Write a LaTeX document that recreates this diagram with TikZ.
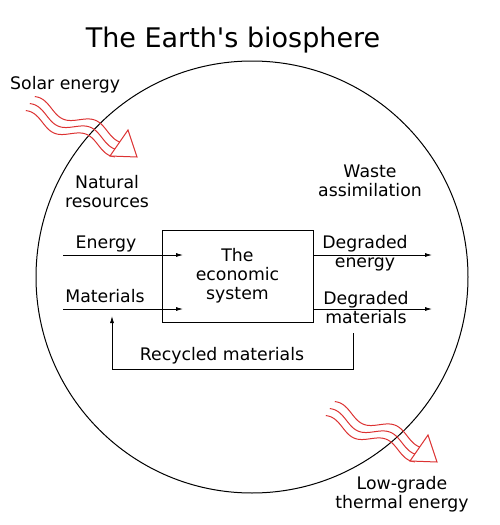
\documentclass[tikz,border=0pt]{standalone}
\usepackage{fontspec}
\setmainfont{DejaVu Sans}
\usetikzlibrary{arrows.meta}
\definecolor{wavered}{RGB}{220,50,50}

\begin{document}
\begin{tikzpicture}[x=1pt,y=-1pt,
		txt/.style={font=\fontsize{17.3}{19}\selectfont,align=center,anchor=base,inner sep=0pt},
		flow/.style={-{Latex[length=7pt,width=4pt]},line width=0.8pt},
		wave/.style={draw=wavered,line width=1pt}]
	\useasboundingbox (0,0) rectangle (500,525);
	\draw[line width=1pt] (252,277) circle [radius=216pt];
	\node[font=\fontsize{27}{32}\selectfont,anchor=base] (title) at (233,47) {The Earth\textquotesingle s biosphere};

	% wavy arrows: solar energy in, thermal energy out
	\foreach \dx/\dy in {0/0,300/305}{
		\begin{scope}[shift={(\dx,\dy)}]
			\foreach \sx/\sy in {33/101,28/108,24/115}
				\draw[wave,rotate around={-22:(\sx,\sy)}] plot[domain=0:100,samples=60] ({\sx+\x},{\sy-5.5*cos(6*(\x-5))});
			\draw[wave,fill=white] (128,130) -- (137,157) -- (110,156) -- cycle;
		\end{scope}
	}

	\node[draw,line width=0.8pt,txt,anchor=center,minimum width=151pt,minimum height=92pt] (econ) at (237.5,276) {The\\economic\\system};

	\coordinate (ein) at (63,255);
	\coordinate (eend) at (183,255);
	\coordinate (min) at (63,309);
	\coordinate (mend) at (183,309);
	\coordinate (eout) at (432,255);
	\coordinate (mout) at (432,309);
	\coordinate (rstart) at (353,333);
	\coordinate (rend) at (112,316);
	\draw[flow] (ein) -- (eend);
	\draw[flow] (min) -- (mend);
	\draw[flow] (econ.east |- eout) -- (eout);
	\draw[flow] (econ.east |- mout) -- (mout);
	\draw[flow] (rstart) -- ++(0,36) -| (rend);

	\node[txt,anchor=base west] (solar) at (10,89) {Solar energy};
	\node[txt] (natres) at (107,207) {Natural\\resources};
	\node[txt] (waste) at (370,196) {Waste\\assimilation};
	\node[txt] (energy) at (106,248) {Energy};
	\node[txt] (mat) at (105,302) {Materials};
	\node[txt] (degen) at (365,267) {Degraded\\energy};
	\node[txt] (degmat) at (366,323) {Degraded\\materials};
	\node[txt] (recyc) at (222,360) {Recycled materials};
	\node[txt] (thermal) at (402,508) {Low-grade\\thermal energy};
\end{tikzpicture}
\end{document}
